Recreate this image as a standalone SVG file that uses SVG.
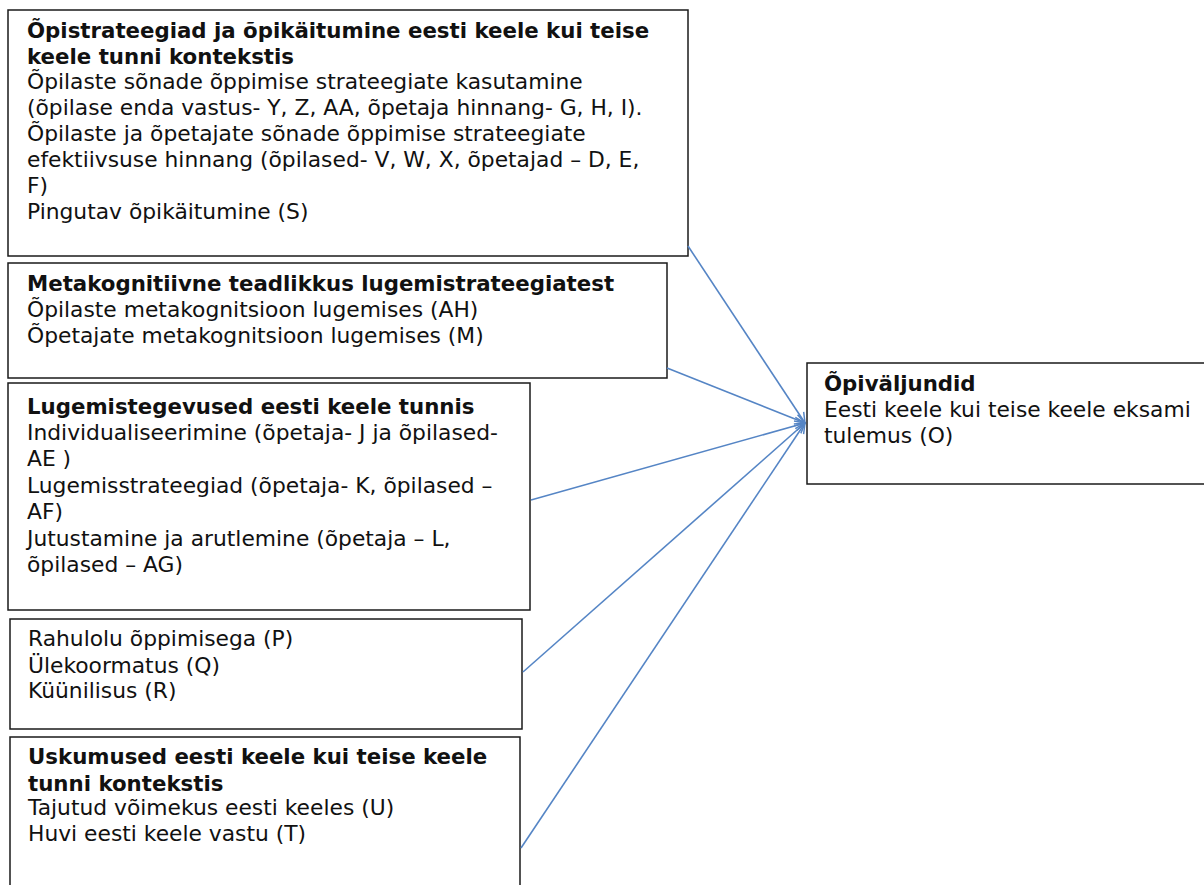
<svg xmlns="http://www.w3.org/2000/svg" width="1204" height="885" viewBox="0 0 1204 885">
<defs>
<style>
.box{fill:#fff;stroke:#1a1a1a;stroke-width:1.5}
text{font-family:"DejaVu Sans",Verdana,sans-serif;font-size:21.8px;fill:#111}
.b{font-weight:bold;font-size:21.3px}
.conn{stroke:#5585c5;stroke-width:1.6;fill:none;marker-end:url(#arr)}
</style>
<marker id="arr" viewBox="0 0 12 12" refX="11" refY="6" markerWidth="12" markerHeight="12" markerUnits="userSpaceOnUse" orient="auto">
<path d="M1,1 L11,6 L1,11" fill="none" stroke="#5585c5" stroke-width="1.5"/>
</marker>
</defs>
<rect width="1204" height="885" fill="#fff"/>
<g id="n1">
<rect class="box" x="8" y="10" width="680" height="246"/>
<text x="27" y="38" class="b">Õpistrateegiad ja õpikäitumine eesti keele kui teise</text>
<text x="27" y="64" class="b">keele tunni kontekstis</text>
<text x="27" y="89">Õpilaste sõnade õppimise strateegiate kasutamine</text>
<text x="27" y="115">(õpilase enda vastus- Y, Z, AA, õpetaja hinnang- G, H, I).</text>
<text x="27" y="141">Õpilaste ja õpetajate sõnade õppimise strateegiate</text>
<text x="27" y="167">efektiivsuse hinnang (õpilased- V, W, X, õpetajad – D, E,</text>
<text x="27" y="193">F)</text>
<text x="27" y="219">Pingutav õpikäitumine (S)</text>
</g>
<g id="n2">
<rect class="box" x="8" y="263" width="659" height="115"/>
<text x="27" y="291" class="b">Metakognitiivne teadlikkus lugemistrateegiatest</text>
<text x="27" y="317">Õpilaste metakognitsioon lugemises (AH)</text>
<text x="27" y="343">Õpetajate metakognitsioon lugemises (M)</text>
</g>
<g id="n3">
<rect class="box" x="8" y="383" width="522" height="227"/>
<text x="27" y="414" class="b">Lugemistegevused eesti keele tunnis</text>
<text x="27" y="440">Individualiseerimine (õpetaja- J ja õpilased-</text>
<text x="27" y="466">AE )</text>
<text x="27" y="493">Lugemisstrateegiad (õpetaja- K, õpilased –</text>
<text x="27" y="519">AF)</text>
<text x="27" y="546">Jutustamine ja arutlemine (õpetaja – L,</text>
<text x="27" y="572">õpilased – AG)</text>
</g>
<g id="n4">
<rect class="box" x="10" y="619" width="512" height="110"/>
<text x="28" y="646">Rahulolu õppimisega (P)</text>
<text x="28" y="673">Ülekoormatus (Q)</text>
<text x="28" y="698">Küünilisus (R)</text>
</g>
<g id="n5">
<rect class="box" x="10" y="737" width="510" height="160"/>
<text x="28" y="764" class="b">Uskumused eesti keele kui teise keele</text>
<text x="28" y="791" class="b">tunni kontekstis</text>
<text x="28" y="815">Tajutud võimekus eesti keeles (U)</text>
<text x="28" y="841">Huvi eesti keele vastu (T)</text>
</g>
<g id="out">
<rect class="box" x="807" y="363" width="410" height="121"/>
<text x="824" y="391" class="b">Õpiväljundid</text>
<text x="824" y="417">Eesti keele kui teise keele eksami</text>
<text x="824" y="443">tulemus (O)</text>
</g>
<g id="connectors">
<line class="conn" x1="688" y1="246" x2="805" y2="423"/>
<line class="conn" x1="667" y1="368" x2="805" y2="423"/>
<line class="conn" x1="531" y1="500" x2="805" y2="423"/>
<line class="conn" x1="523" y1="672" x2="805" y2="423"/>
<line class="conn" x1="521" y1="848" x2="805" y2="423"/>
</g>
</svg>
